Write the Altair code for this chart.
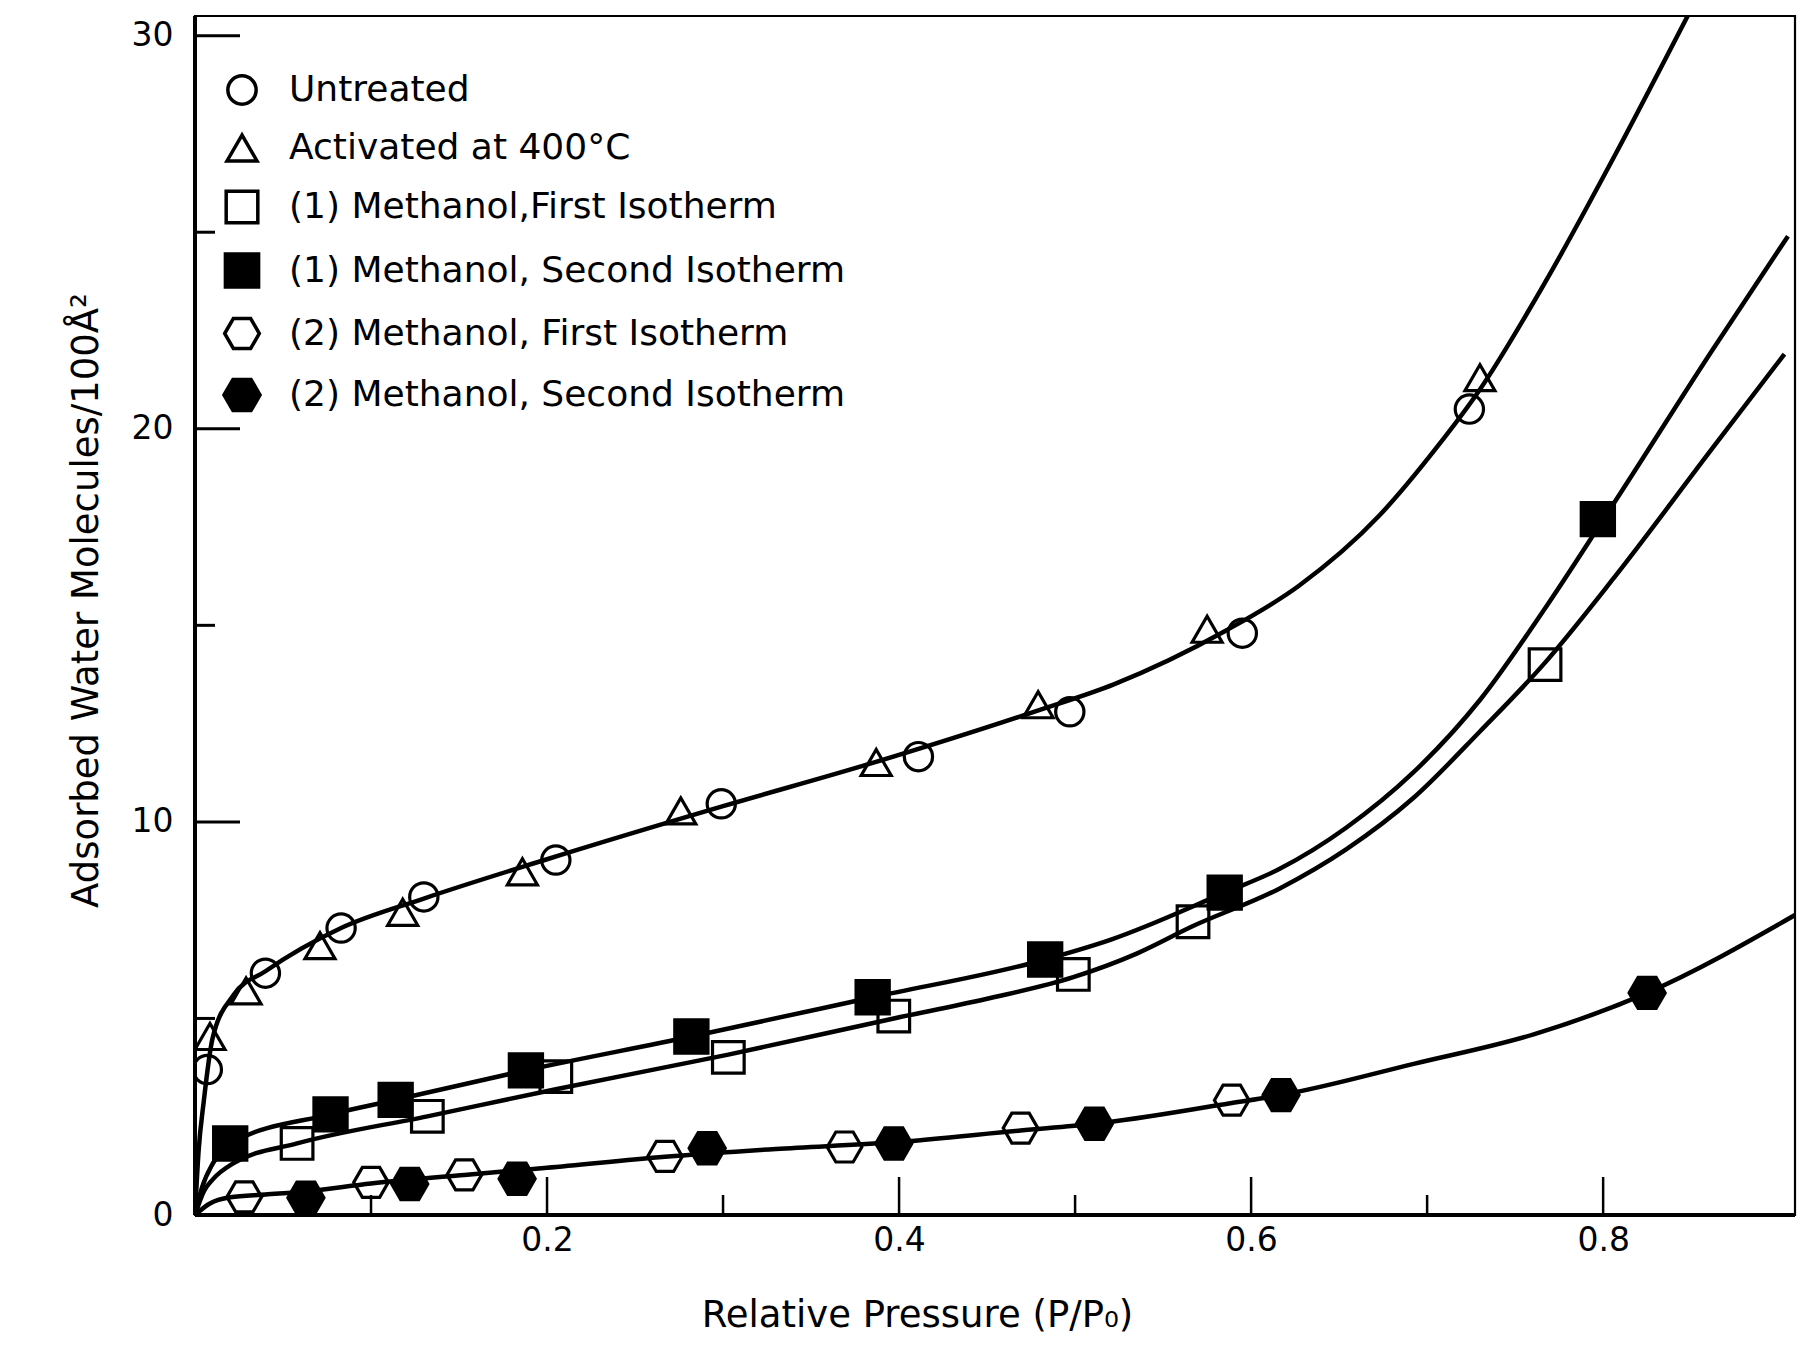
import altair as alt
import pandas as pd

# ---------------- data ----------------
SERIES = [
    "Untreated",
    "Activated at 400°C",
    "(1) Methanol,First Isotherm",
    "(1) Methanol, Second Isotherm",
    "(2) Methanol, First Isotherm",
    "(2) Methanol, Second Isotherm",
]

untreated_x = [0.007, 0.040, 0.083, 0.130, 0.205, 0.299, 0.411, 0.497, 0.595, 0.724]
untreated_y = [3.70, 6.15, 7.30, 8.09, 9.03, 10.46, 11.66, 12.80, 14.80, 20.50]

activated_x = [0.0085, 0.029, 0.071, 0.118, 0.186, 0.276, 0.387, 0.479, 0.575, 0.730]
activated_y = [4.54, 5.70, 6.85, 7.70, 8.73, 10.28, 11.51, 12.98, 14.90, 21.30]

m1_first_x = [0.058, 0.132, 0.205, 0.303, 0.397, 0.499, 0.567, 0.767]
m1_first_y = [1.82, 2.51, 3.52, 4.01, 5.06, 6.12, 7.46, 14.0]

m1_second_x = [0.020, 0.077, 0.114, 0.188, 0.282, 0.385, 0.483, 0.585, 0.797]
m1_second_y = [1.82, 2.56, 2.93, 3.68, 4.54, 5.54, 6.50, 8.20, 17.7]

m2_first_x = [0.028, 0.100, 0.153, 0.267, 0.369, 0.469, 0.589]
m2_first_y = [0.46, 0.83, 1.02, 1.49, 1.73, 2.21, 2.92]

m2_second_x = [0.063, 0.122, 0.183, 0.291, 0.397, 0.511, 0.617, 0.825]
m2_second_y = [0.44, 0.79, 0.92, 1.70, 1.82, 2.32, 3.05, 5.65]

# fitted curves as drawn in the figure
curve_top_x = [0.000, 0.002, 0.005, 0.010, 0.022, 0.040, 0.083, 0.130, 0.200, 0.300,
               0.385, 0.480, 0.522, 0.585, 0.627, 0.673, 0.705, 0.730, 0.768, 0.806, 0.848]
curve_top_y = [0.0, 1.6, 2.9, 4.5, 5.6, 6.2, 7.3, 8.05, 9.05, 10.4,
               11.5, 12.85, 13.5, 14.85, 16.0, 17.8, 19.5, 21.0, 23.8, 26.9, 30.5]

curve_m1s_x = [0.000, 0.004, 0.010, 0.020, 0.077, 0.114, 0.188, 0.282, 0.385, 0.483,
               0.520, 0.585, 0.616, 0.654, 0.692, 0.730, 0.768, 0.806, 0.862, 0.905]
curve_m1s_y = [0.0, 0.7, 1.3, 1.82, 2.56, 2.93, 3.68, 4.54, 5.54, 6.50,
               7.0, 8.2, 8.8, 9.85, 11.25, 13.1, 15.5, 18.1, 22.0, 24.9]

curve_m1f_x = [0.000, 0.005, 0.010, 0.022, 0.058, 0.132, 0.205, 0.303, 0.397, 0.450,
               0.499, 0.535, 0.567, 0.616, 0.654, 0.692, 0.730, 0.766, 0.806, 0.862, 0.903]
curve_m1f_y = [0.0, 0.6, 0.9, 1.32, 1.82, 2.51, 3.20, 4.08, 5.0, 5.5,
               6.05, 6.65, 7.35, 8.3, 9.3, 10.6, 12.3, 14.0, 16.2, 19.5, 21.9]

curve_m2_x = [0.000, 0.008, 0.020, 0.040, 0.063, 0.100, 0.153, 0.200, 0.267, 0.330,
              0.397, 0.469, 0.511, 0.589, 0.617, 0.693, 0.761, 0.825, 0.909]
curve_m2_y = [0.0, 0.28, 0.45, 0.52, 0.60, 0.80, 1.02, 1.20, 1.48, 1.68,
              1.85, 2.15, 2.32, 2.85, 3.05, 3.85, 4.60, 5.65, 7.63]

y_major_ticks = [10, 20, 30]
y_minor_ticks = [5, 15, 25]
x_major_ticks = [0.2, 0.4, 0.6, 0.8]
x_minor_ticks = [0.1, 0.3, 0.5, 0.7]
y_labels = [0, 10, 20, 30]

# ---------------- tables ----------------
pts = []
for name, xs, ys in zip(
    SERIES,
    [untreated_x, activated_x, m1_first_x, m1_second_x, m2_first_x, m2_second_x],
    [untreated_y, activated_y, m1_first_y, m1_second_y, m2_first_y, m2_second_y],
):
    for a, b in zip(xs, ys):
        pts.append({"series": name, "x": a, "y": b})
points_df = pd.DataFrame(pts)

crv = []
for cname, xs, ys in [("top", curve_top_x, curve_top_y),
                      ("m1s", curve_m1s_x, curve_m1s_y),
                      ("m1f", curve_m1f_x, curve_m1f_y),
                      ("m2", curve_m2_x, curve_m2_y)]:
    for a, b in zip(xs, ys):
        crv.append({"curve": cname, "x": a, "y": b})
curves_df = pd.DataFrame(crv)

# ---------------- scales / axes ----------------
W, H = 1600, 1199
FONT = "DejaVu Sans"

x_scale = alt.Scale(domain=[0, 0.909], nice=False, zero=False)
y_scale = alt.Scale(domain=[0, 30.5], nice=False, zero=False)

x_axis = alt.Axis(
    values=x_major_ticks, format=".1f", grid=False, ticks=False, domain=False,
    labelFont=FONT, labelFontSize=33, labelColor="black", labelPadding=9,
    labelFlush=False,
    title="Relative Pressure (P/P₀)", titleFont=FONT, titleFontSize=37,
    titleFontWeight="normal", titleColor="black",
    titleX=722, titleY=100, titleAlign="center", titleBaseline="middle",
)
y_axis = alt.Axis(
    values=y_labels, format="d", grid=False, ticks=False, domain=False,
    labelFont=FONT, labelFontSize=33, labelColor="black", labelPadding=22,
    labelFlush=False,
    title="Adsorbed Water Molecules/100Å²", titleFont=FONT, titleFontSize=37,
    titleFontWeight="normal", titleColor="black", titleAngle=270,
    titleX=-109, titleY=584, titleAlign="center", titleBaseline="middle",
)

X = alt.X("x:Q", scale=x_scale, axis=x_axis)
Y = alt.Y("y:Q", scale=y_scale, axis=y_axis)

hexagon = "M-1,0L-0.5,-0.866L0.5,-0.866L1,0L0.5,0.866L-0.5,0.866Z"
shape_range = ["circle", "triangle-up", "square", "square", hexagon, hexagon]
fill_range = ["transparent", "transparent", "transparent", "black", "transparent", "black"]
stroke_range = ["black"] * 6
size_range = [800, 1300, 900, 900, 1000, 1000]

legend = alt.Legend(
    title=None, orient="none", legendX=27, legendY=56, padding=0,
    labelFont=FONT, labelFontSize=36, labelColor="black", labelLimit=2000,
    labelOffset=27, rowPadding=16,
    symbolStrokeColor="black", symbolStrokeWidth=3.5, symbolOpacity=1,
)

lines = alt.Chart(curves_df).mark_line(
    color="black", strokeWidth=4.5, interpolate="monotone", clip=True
).encode(x=X, y=Y, detail="curve:N")

points = alt.Chart(points_df).mark_point(
    filled=True, strokeWidth=3.2, opacity=1, clip=True
).encode(
    x=X, y=Y,
    shape=alt.Shape("series:N", scale=alt.Scale(domain=SERIES, range=shape_range), legend=legend),
    fill=alt.Fill("series:N", scale=alt.Scale(domain=SERIES, range=fill_range), legend=legend),
    stroke=alt.Stroke("series:N", scale=alt.Scale(domain=SERIES, range=stroke_range), legend=legend),
    size=alt.Size("series:N", scale=alt.Scale(domain=SERIES, range=size_range), legend=legend),
)

ymaj = alt.Chart(pd.DataFrame({"y": y_major_ticks})).mark_rule(color="black", strokeWidth=3).encode(
    y=Y, x=alt.value(0), x2=alt.value(45))
ymin = alt.Chart(pd.DataFrame({"y": y_minor_ticks})).mark_rule(color="black", strokeWidth=3).encode(
    y=Y, x=alt.value(0), x2=alt.value(20))
xmaj = alt.Chart(pd.DataFrame({"x": x_major_ticks})).mark_rule(color="black", strokeWidth=2.5).encode(
    x=X, y=alt.value(H), y2=alt.value(H - 38))
xmin = alt.Chart(pd.DataFrame({"x": x_minor_ticks})).mark_rule(color="black", strokeWidth=2.5).encode(
    x=X, y=alt.value(H), y2=alt.value(H - 20))

# heavier left and bottom frame lines
left_edge = alt.Chart(pd.DataFrame({"y": [0]})).mark_rule(color="black", strokeWidth=4).encode(
    x=alt.value(0), y=alt.value(0), y2=alt.value(H))
bottom_edge = alt.Chart(pd.DataFrame({"y": [0]})).mark_rule(color="black", strokeWidth=4).encode(
    y=alt.value(H), x=alt.value(0), x2=alt.value(W))

chart = alt.layer(ymaj, ymin, xmaj, xmin, left_edge, bottom_edge, lines, points).properties(
    width=W, height=H,
    autosize=alt.AutoSizeParams(type="none"),
    padding={"left": 195, "top": 16, "right": 11, "bottom": 137},
    background="white",
).configure_view(stroke="black", strokeWidth=2.2)

chart.save("out.html", embed_options={"renderer": "svg", "actions": False})
